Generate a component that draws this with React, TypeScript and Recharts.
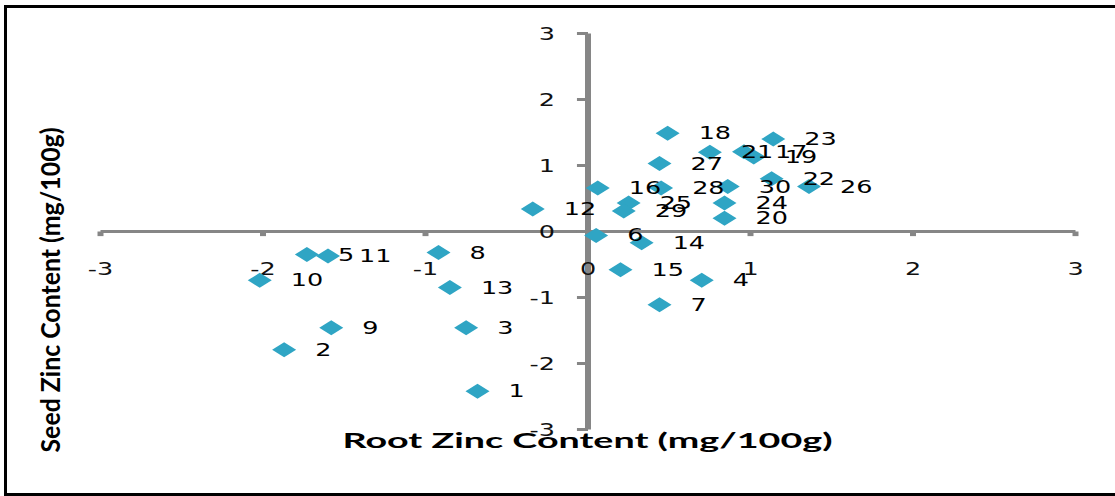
import React from 'react';
import { ScatterChart, Scatter, XAxis, YAxis, ReferenceLine, LabelList } from 'recharts';

// genotype numbers and their standardised zinc contents
const genotypes = [
  '1', '2', '3', '4', '5', '6', '7', '8', '9', '10',
  '11', '12', '13', '14', '15', '16', '17', '18', '19', '20',
  '21', '22', '23', '24', '25', '26', '27', '28', '29', '30',
];
const rootZinc = [
  -0.68, -1.87, -0.75, 0.7, -1.73, 0.05, 0.44, -0.92, -1.58, -2.02,
  -1.6, -0.34, -0.85, 0.33, 0.2, 0.06, 0.96, 0.49, 1.02, 0.84,
  0.75, 1.13, 1.14, 0.84, 0.25, 1.36, 0.44, 0.45, 0.22, 0.86,
];
const seedZinc = [
  -2.42, -1.79, -1.46, -0.74, -0.35, -0.06, -1.11, -0.32, -1.46, -0.74,
  -0.37, 0.34, -0.85, -0.17, -0.58, 0.66, 1.21, 1.49, 1.13, 0.2,
  1.2, 0.8, 1.4, 0.43, 0.43, 0.68, 1.03, 0.66, 0.31, 0.68,
];
const axisTicks = [-3, -2, -1, 0, 1, 2, 3];

const data = genotypes.map((name, i) => ({ name, x: rootZinc[i], y: seedZinc[i] }));

const MARKER = '#2FA5C4';
const AXIS = '#868686';
const LABEL_FONT = '"DejaVu Sans", Verdana, sans-serif';

const Diamond = (props: any) => {
  const { cx, cy } = props;
  return (
    <polygon
      points={`${cx - 12},${cy} ${cx},${cy - 7.5} ${cx + 12},${cy} ${cx},${cy + 7.5}`}
      fill={MARKER}
    />
  );
};

const PointLabel = (props: any) => {
  const vb = props.viewBox || props;
  const cx = vb.x + (vb.width || 0) / 2;
  const cy = vb.y + (vb.height || 0) / 2;
  return (
    <text
      transform={`translate(${cx + 31},${cy + 6}) scale(1.5,1)`}
      fontFamily={LABEL_FONT}
      fontSize={17}
      fill="#000"
    >
      {props.value}
    </text>
  );
};

const xTickLabel = (t: number) => (p: any) => {
  const vb = p.viewBox;
  return (
    <text
      transform={`translate(${vb.x + (vb.width || 0) / 2},${vb.y + 43}) scale(1.5,1)`}
      textAnchor="middle"
      fontFamily={LABEL_FONT}
      fontSize={17}
      fill="#111"
    >
      {t}
    </text>
  );
};

const yTickLabel = (t: number) => (p: any) => {
  const vb = p.viewBox;
  return (
    <text
      transform={`translate(${vb.x + (vb.width || 0) - 33},${vb.y + 6.5}) scale(1.5,1)`}
      textAnchor="end"
      fontFamily={LABEL_FONT}
      fontSize={17}
      fill="#111"
    >
      {t}
    </text>
  );
};

export default function App() {
  return (
    <div style={{ position: 'absolute', left: 0, top: 0, width: 1115, height: 496, background: '#fff', overflow: 'hidden' }}>
      <div
        style={{
          position: 'absolute',
          left: 4,
          top: 5,
          width: 1111,
          height: 491,
          borderTop: '3px solid #000',
          borderLeft: '3px solid #000',
          borderBottom: '3px solid #000',
          boxSizing: 'border-box',
        }}
      />
      <div style={{ position: 'absolute', left: 0, top: 0 }}>
        <ScatterChart width={1115} height={496} margin={{ top: 33.5, right: 39.5, bottom: 66.5, left: 100.5 }}>
          <XAxis type="number" dataKey="x" domain={[-3, 3]} ticks={axisTicks} hide />
          <YAxis type="number" dataKey="y" domain={[-3, 3]} ticks={axisTicks} hide />
          <ReferenceLine y={0} stroke={AXIS} strokeWidth={3} />
          <ReferenceLine x={0} stroke={AXIS} strokeWidth={6} />
          {axisTicks.map((t) => (
            <ReferenceLine
              key={'xt' + t}
              segment={[{ x: t, y: 0 }, { x: t, y: -0.07 }]}
              stroke={AXIS}
              strokeWidth={6}
              label={xTickLabel(t)}
            />
          ))}
          {axisTicks.map((t) => (
            <ReferenceLine
              key={'yt' + t}
              segment={[{ x: -0.068, y: t }, { x: 0, y: t }]}
              stroke={AXIS}
              strokeWidth={3}
              label={yTickLabel(t)}
            />
          ))}
          <Scatter data={data} shape={<Diamond />} isAnimationActive={false}>
            <LabelList dataKey="name" content={<PointLabel />} />
          </Scatter>
        </ScatterChart>
      </div>
      <svg width={1115} height={496} style={{ position: 'absolute', left: 0, top: 0, pointerEvents: 'none' }}>
        <text
          x={587.5}
          y={448}
          textAnchor="middle"
          fontFamily="Lato, 'Open Sans', sans-serif"
          fontWeight="bold"
          fontSize={21}
          textLength={490}
          lengthAdjust="spacingAndGlyphs"
          fill="#000"
        >
          Root Zinc Content (mg/100g)
        </text>
        <text
          transform="translate(60,290) scale(1.3,1) rotate(-90)"
          textAnchor="middle"
          fontFamily="Lato, 'Open Sans', sans-serif"
          fontWeight="bold"
          fontSize={21}
          textLength={325}
          lengthAdjust="spacingAndGlyphs"
          fill="#000"
        >
          Seed Zinc Content (mg/100g)
        </text>
      </svg>
    </div>
  );
}
